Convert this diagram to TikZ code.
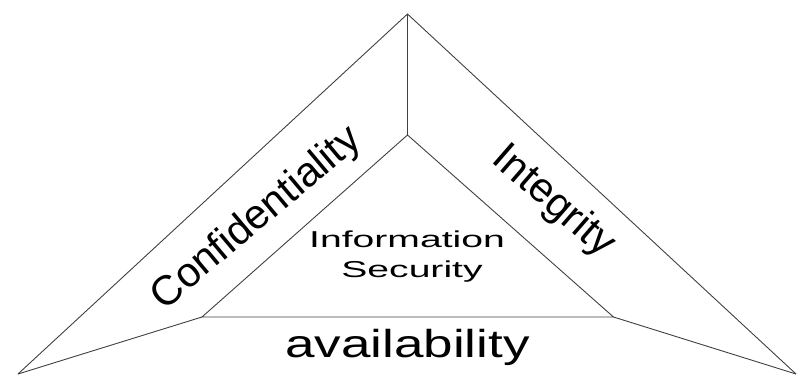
\documentclass[tikz,border=0pt]{standalone}
\usepackage{fontspec}
\setmainfont{Liberation Sans}
\begin{document}
\begin{tikzpicture}[x=1pt,y=-1pt,
  edge/.style={draw=black!75, line width=0.9pt, line join=miter},
  lbl/.style={inner sep=0pt, text=black},
  bigtxt/.style={lbl, font=\fontsize{41.5}{42}\selectfont},
  midtxt/.style={lbl, font=\fontsize{23}{28}\selectfont}]
\useasboundingbox (0,0) rectangle (798,375);
% outer points
\coordinate (A) at (407.5,14);
\coordinate (L) at (18,374);
\coordinate (R) at (796,374);
% inner points
\coordinate (ia) at (407.5,135);
\coordinate (il) at (202,317);
\coordinate (ir) at (613.5,317);
% edges
\draw[edge] (L) -- (A) -- (R);
\draw[edge] (A) -- (ia);
\draw[edge] (L) -- (il);
\draw[edge] (R) -- (ir);
\draw[edge] (ia) -- (il) -- (ir) -- cycle;
% labels
\node[bigtxt, rotate=40] (conf) at (257,219) {Confidentiality};
\node[bigtxt, rotate=-41] (integ) at (553,202) {Integrity};
\node[lbl, font=\fontsize{39}{40}\selectfont, xscale=1.36, anchor=base] (avail) at (407.5,357) {availability};
\node[midtxt, xscale=1.7, anchor=base] (info) at (407,247) {Information};
\node[midtxt, xscale=1.7, anchor=base] (sec) at (412,277) {Security};
\end{tikzpicture}
\end{document}
